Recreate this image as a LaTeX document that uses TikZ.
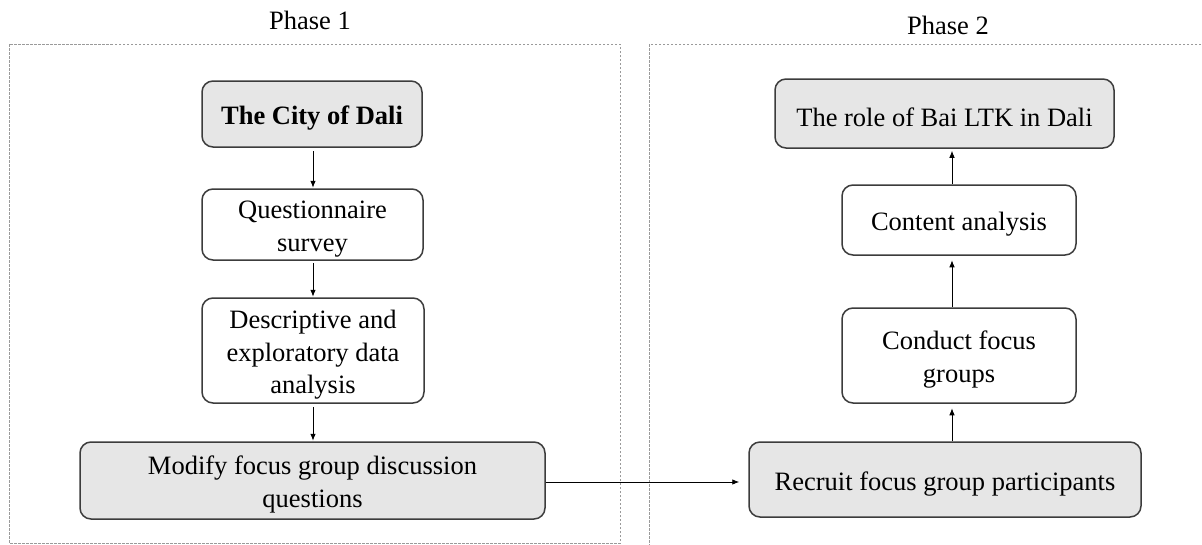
\documentclass[tikz,border=0pt]{standalone}
\usepackage{fontspec}
\setmainfont{Liberation Serif}
\usetikzlibrary{arrows.meta}
\definecolor{boxfill}{HTML}{E6E6E6}
\definecolor{boxline}{HTML}{3C3C3C}
\definecolor{dashc}{HTML}{9A9A9A}
\newcommand{\mytopstrut}{\rule{0pt}{27pt}}
\begin{document}
\begin{tikzpicture}[x=1pt,y=-1pt,
  box/.style={draw=boxline, line width=1.5pt, rounded corners=11pt, inner sep=0pt, align=center,
    font=\fontsize{26.5}{32.5}\selectfont},
  gbox/.style={box, fill=boxfill},
  wbox/.style={box, fill=white},
  arr/.style={-{Latex[length=7pt,width=5.5pt]}, line width=0.8pt},
  frame/.style={draw=dashc, line width=1pt, dash pattern=on 2.5pt off 1.5pt},
  lab/.style={font=\fontsize{26.5}{32}\selectfont, inner sep=0pt}]
\useasboundingbox (0,0) rectangle (1202,544);
\draw[frame] (9,44) rectangle (620,543);
\draw[frame] (649,44) rectangle (1215,552);
\node[lab] (p1) at (310,20) {Phase 1};
\node[lab] (p2) at (948,25) {Phase 2};
% Phase 1
\node[gbox, minimum width=220pt, minimum height=66pt] (city) at (312,114) {\mytopstrut\textbf{The City of Dali}};
\node[wbox, minimum width=221pt, minimum height=71pt] (q) at (312.5,224.5) {\mytopstrut Questionnaire\\survey};
\node[wbox, minimum width=222pt, minimum height=105pt] (d) at (313,350.5) {\mytopstrut Descriptive and\\exploratory data\\analysis};
\node[gbox, minimum width=465pt, minimum height=77pt] (m) at (312.5,480.5) {\mytopstrut Modify focus group discussion\\questions};
% Phase 2
\node[gbox, minimum width=339pt, minimum height=69pt] (role) at (944.5,113.5) {\mytopstrut The role of Bai LTK in Dali};
\node[wbox, minimum width=234pt, minimum height=70pt] (ca) at (959,220) {\mytopstrut Content analysis};
\node[wbox, minimum width=234pt, minimum height=95pt] (cf) at (959,355.5) {\mytopstrut Conduct focus\\groups};
\node[gbox, minimum width=392pt, minimum height=75pt] (rc) at (945,479.5) {\mytopstrut Recruit focus group participants};
% arrow columns
\coordinate (ax1) at (313,0);
\coordinate (ax2) at (952,0);
\coordinate (ay) at (0,482);
\draw[arr, shorten <=3.5pt, shorten >=0.5pt] (city.south -| ax1) -- (q.north -| ax1);
\draw[arr, shorten <=2.5pt, shorten >=0.5pt] (q.south -| ax1) -- (d.north -| ax1);
\draw[arr, shorten <=3pt, shorten >=0.5pt] (d.south -| ax1) -- (m.north -| ax1);
\draw[arr, shorten >=9pt] (m.east |- ay) -- (rc.west |- ay);
\draw[arr, shorten >=4.5pt] (rc.north -| ax2) -- (cf.south -| ax2);
\draw[arr, shorten >=4.5pt] (cf.north -| ax2) -- (ca.south -| ax2);
\draw[arr, shorten >=2pt] (ca.north -| ax2) -- (role.south -| ax2);
\end{tikzpicture}
\end{document}
